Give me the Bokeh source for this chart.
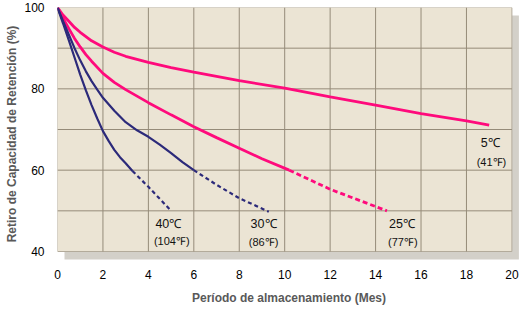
from bokeh.plotting import figure
from bokeh.models import FixedTicker, ColumnDataSource
from bokeh.core.properties import value
from bokeh.embed import file_html
from bokeh.resources import INLINE

# 5 °C curve (solid)
x5 = [0, 0.25, 0.5, 0.75, 1, 1.5, 2, 2.5, 3, 4, 5, 6, 8, 10, 12, 14, 16, 18, 19]
v5 = [100, 98.1, 96.6, 95.1, 93.9, 91.8, 90.3, 89.0, 88.0, 86.5, 85.2, 84.1, 82.0, 80.2, 78.0, 76.0, 73.9, 72.1, 71.1]

# 25 °C curve (solid part, then extrapolated dashed part)
x25 = [0, 0.25, 0.5, 0.75, 1, 1.25, 1.5, 2, 2.5, 3, 4, 5, 6, 7, 8, 9, 10.2]
v25 = [100, 97.3, 94.8, 92.4, 90.3, 88.4, 86.8, 83.8, 81.6, 79.8, 76.6, 73.6, 70.7, 68.0, 65.4, 62.8, 60]
x25d = [10.2, 12, 14.5]
v25d = [60, 55.3, 50]

# 30 °C curve
x30 = [0, 0.25, 0.5, 0.75, 1, 1.25, 1.5, 1.75, 2, 2.5, 3, 3.5, 4, 4.5, 5, 5.5, 6]
v30 = [100, 96.6, 93.3, 90.0, 87.0, 84.3, 81.9, 79.8, 77.8, 74.6, 71.8, 69.8, 68.2, 66.3, 64.2, 62.0, 60]
x30d = [6, 7, 8, 9.3]
v30d = [60, 56.4, 53.1, 49.8]

# 40 °C curve
x40 = [0, 0.25, 0.5, 0.75, 1, 1.25, 1.5, 1.75, 2, 2.25, 2.5, 2.75, 3, 3.3]
v40 = [100, 96.0, 91.9, 87.7, 83.5, 79.6, 76.0, 72.7, 69.6, 67.2, 65.0, 63.2, 61.7, 59.8]
x40d = [3.3, 4, 5]
v40d = [59.8, 55.9, 50]

# curve labels
lab_c_text = ["5℃", "40℃", "30℃", "25℃"]
lab_c_x = [19.05, 4.88, 9.07, 15.16]
lab_c_y = [66.6, 46.8, 46.8, 46.8]
lab_f_text = ["(41℉)", "(104℉)", "(86℉)", "(77℉)"]
lab_f_x = [19.1, 5.03, 9.07, 15.2]
lab_f_y = [62.0, 42.6, 42.4, 42.4]

x_ticks = [0, 2, 4, 6, 8, 10, 12, 14, 16, 18, 20]
y_ticks = [40, 60, 80, 100]
y_grid = [40, 50, 60, 70, 80, 90, 100]

X0, X1 = 0, 20
Y0, Y1 = 40, 100

PINK = "#ff0a7c"
NAVY = "#2c2a7a"

# frame spans the plotting area plus its drop shadow
PX_PER_X = 22.72
PX_PER_Y = 244 / 60.0
p = figure(width=520, height=309,
           x_range=(X0, 463 / PX_PER_X),
           y_range=(Y0 - 9 / PX_PER_Y, Y1),
           output_backend="svg", toolbar_location=None,
           min_border_left=57, min_border_right=0, min_border_top=7, min_border_bottom=49)

p.background_fill_color = "white"
p.border_fill_color = "white"
p.outline_line_color = None
p.xgrid.visible = False
p.ygrid.visible = False

# drop shadow (offset 7px right, 8px down)
dx = 7 / PX_PER_X
dy = 8 / PX_PER_Y
p.quad(left=[X0 + dx], right=[X1 + dx], bottom=[Y0 - dy], top=[Y1 - dy],
       fill_color="#d3d0c9", line_color=None)
# plotting area
p.quad(left=[X0], right=[X1], bottom=[Y0], top=[Y1],
       fill_color="#ebe4d4", line_color="#b3ab9b", line_width=1)

# grid lines
gx = [t for t in x_ticks if X0 < t < X1]
gy = [t for t in y_grid if Y0 < t < Y1]
p.segment(x0=gx, y0=[Y0] * len(gx), x1=gx, y1=[Y1] * len(gx),
          line_color="#958b79", line_width=1)
p.segment(x0=[X0] * len(gy), y0=gy, x1=[X1] * len(gy), y1=gy,
          line_color="#958b79", line_width=1)

p.xaxis.ticker = FixedTicker(ticks=x_ticks)
p.yaxis.ticker = FixedTicker(ticks=y_ticks)
for ax in (p.xaxis[0], p.yaxis[0]):
    ax.axis_line_color = None
    ax.major_tick_line_color = None
    ax.minor_tick_line_color = None
    ax.major_label_text_font = "Liberation Sans"
    ax.major_label_text_font_size = "12px"
    ax.major_label_text_color = "#000000"
    ax.axis_label_text_font = "Liberation Sans"
    ax.axis_label_text_font_style = "bold"
    ax.axis_label_text_font_size = "12px"
    ax.axis_label_text_color = "#595959"

p.xaxis.major_label_standoff = 3
p.xaxis.axis_label_standoff = 9
p.yaxis.major_label_standoff = 7
p.yaxis.axis_label_standoff = 2
p.xaxis.axis_label = "Período de almacenamiento (Mes)"
p.yaxis.axis_label = "Retiro de Capacidad de Retención (%)"

p.line(x5, v5, line_color=PINK, line_width=2.8)
p.line(x25, v25, line_color=PINK, line_width=2.8)
p.line(x25d, v25d, line_color=PINK, line_width=2.8, line_dash="5 3")
p.line(x30, v30, line_color=NAVY, line_width=2.2)
p.line(x30d, v30d, line_color=NAVY, line_width=2.2, line_dash="4 3")
p.line(x40, v40, line_color=NAVY, line_width=2.2)
p.line(x40d, v40d, line_color=NAVY, line_width=2.2, line_dash="4 3")

src_c = ColumnDataSource(dict(x=lab_c_x, y=lab_c_y, t=lab_c_text))
src_f = ColumnDataSource(dict(x=lab_f_x, y=lab_f_y, t=lab_f_text))
p.text(x="x", y="y", text="t", source=src_c, text_font=value("Liberation Sans"),
       text_font_size="12.5px", text_color="#111111", text_align="center",
       text_baseline="middle")
p.text(x="x", y="y", text="t", source=src_f, text_font=value("Liberation Sans"),
       text_font_size="11px", text_color="#111111", text_align="center",
       text_baseline="middle")

open("out.html", "w").write(file_html(p, INLINE))
